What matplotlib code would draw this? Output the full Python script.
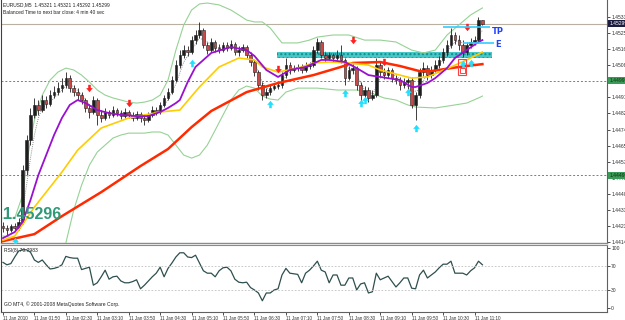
import matplotlib
matplotlib.use("Agg")
import matplotlib.pyplot as plt
from matplotlib.path import Path
from matplotlib.patches import Rectangle
import numpy as np

# EURUSD M5 bars
opens = [1.44229, 1.44219, 1.44208, 1.44229, 1.44219, 1.44251, 1.44526, 1.44684, 1.44817, 1.44870,
         1.44843, 1.44896, 1.44875, 1.44922, 1.44938, 1.44959, 1.44975, 1.45012, 1.44959, 1.44938,
         1.44922, 1.44896, 1.44854, 1.44833, 1.44896, 1.44817, 1.44801, 1.44833, 1.44817, 1.44843,
         1.44827, 1.44811, 1.44833, 1.44817, 1.44801, 1.44822, 1.44801, 1.44790, 1.44817, 1.44843,
         1.44833, 1.44870, 1.44907, 1.44938, 1.45002, 1.45081, 1.45134, 1.45160, 1.45150, 1.45213,
         1.45240, 1.45266, 1.45187, 1.45160, 1.45203, 1.45171, 1.45160, 1.45187, 1.45171, 1.45192,
         1.45150, 1.45160, 1.45176, 1.45134, 1.45097, 1.45044, 1.44975, 1.44922, 1.44938, 1.44959,
         1.44970, 1.44975, 1.45028, 1.45081, 1.45055, 1.45065, 1.45071, 1.45055, 1.45076, 1.45081,
         1.45160, 1.45203, 1.45134, 1.45118, 1.45134, 1.45118, 1.45134, 1.45108, 1.45012, 1.45055,
         1.45065, 1.44975, 1.44922, 1.44949, 1.44907, 1.44922, 1.45081, 1.45044, 1.45028, 1.45055,
         1.45012, 1.45002, 1.44975, 1.44991, 1.45002, 1.44870, 1.44922, 1.45044, 1.45065, 1.45028,
         1.45055, 1.45081, 1.45108, 1.45150, 1.45187, 1.45240, 1.45213, 1.45187, 1.45150, 1.45187,
         1.45203, 1.45213, 1.45321]
highs = [1.44251, 1.44235, 1.44240, 1.44245, 1.44272, 1.44552, 1.44711, 1.44854, 1.44907, 1.44896,
         1.44922, 1.44917, 1.44949, 1.44970, 1.44991, 1.45012, 1.45044, 1.45028, 1.44975, 1.44959,
         1.44938, 1.44907, 1.44875, 1.44917, 1.44907, 1.44843, 1.44854, 1.44843, 1.44864, 1.44854,
         1.44843, 1.44854, 1.44843, 1.44833, 1.44838, 1.44833, 1.44817, 1.44833, 1.44864, 1.44859,
         1.44885, 1.44922, 1.44959, 1.45023, 1.45108, 1.45160, 1.45187, 1.45182, 1.45235, 1.45266,
         1.45309, 1.45277, 1.45203, 1.45224, 1.45213, 1.45192, 1.45203, 1.45203, 1.45213, 1.45203,
         1.45182, 1.45192, 1.45187, 1.45150, 1.45108, 1.45055, 1.44991, 1.44959, 1.44975, 1.44986,
         1.44991, 1.45044, 1.45118, 1.45097, 1.45081, 1.45086, 1.45086, 1.45097, 1.45097, 1.45182,
         1.45224, 1.45213, 1.45150, 1.45150, 1.45145, 1.45160, 1.45187, 1.45118, 1.45076, 1.45086,
         1.45076, 1.44991, 1.44970, 1.44965, 1.44949, 1.45118, 1.45097, 1.45065, 1.45071, 1.45065,
         1.45028, 1.45018, 1.45012, 1.45012, 1.45018, 1.44938, 1.45065, 1.45097, 1.45081, 1.45076,
         1.45108, 1.45129, 1.45171, 1.45213, 1.45277, 1.45256, 1.45240, 1.45213, 1.45203, 1.45224,
         1.45235, 1.45335, 1.45321]
lows = [1.44198, 1.44182, 1.44198, 1.44203, 1.44208, 1.44240, 1.44499, 1.44658, 1.44801, 1.44817,
        1.44833, 1.44854, 1.44864, 1.44907, 1.44922, 1.44938, 1.44959, 1.44938, 1.44917, 1.44896,
        1.44875, 1.44833, 1.44801, 1.44822, 1.44764, 1.44780, 1.44790, 1.44801, 1.44806, 1.44811,
        1.44795, 1.44801, 1.44801, 1.44785, 1.44790, 1.44780, 1.44764, 1.44780, 1.44806, 1.44817,
        1.44822, 1.44859, 1.44896, 1.44928, 1.44991, 1.45065, 1.45118, 1.45129, 1.45139, 1.45192,
        1.45224, 1.45171, 1.45139, 1.45150, 1.45150, 1.45145, 1.45150, 1.45155, 1.45160, 1.45134,
        1.45129, 1.45150, 1.45118, 1.45076, 1.45023, 1.44949, 1.44896, 1.44907, 1.44922, 1.44949,
        1.44954, 1.44959, 1.45012, 1.45034, 1.45044, 1.45049, 1.45039, 1.45044, 1.45060, 1.45071,
        1.45145, 1.45118, 1.45097, 1.45108, 1.45097, 1.45108, 1.45092, 1.44975, 1.45002, 1.45034,
        1.44949, 1.44880, 1.44896, 1.44885, 1.44896, 1.44912, 1.45023, 1.45007, 1.45012, 1.44991,
        1.44981, 1.44949, 1.44959, 1.44949, 1.44854, 1.44790, 1.44907, 1.45023, 1.45002, 1.45012,
        1.45044, 1.45065, 1.45092, 1.45129, 1.45171, 1.45192, 1.45160, 1.45123, 1.45134, 1.45171,
        1.45187, 1.45198, 1.45292]
closes = [1.44219, 1.44208, 1.44229, 1.44219, 1.44251, 1.44526, 1.44684, 1.44817, 1.44870, 1.44843,
          1.44896, 1.44875, 1.44922, 1.44938, 1.44959, 1.44975, 1.45012, 1.44959, 1.44938, 1.44922,
          1.44896, 1.44854, 1.44833, 1.44896, 1.44817, 1.44801, 1.44833, 1.44817, 1.44843, 1.44827,
          1.44811, 1.44833, 1.44817, 1.44801, 1.44822, 1.44801, 1.44790, 1.44817, 1.44843, 1.44833,
          1.44870, 1.44907, 1.44938, 1.45002, 1.45081, 1.45134, 1.45160, 1.45150, 1.45213, 1.45240,
          1.45266, 1.45187, 1.45160, 1.45203, 1.45171, 1.45160, 1.45187, 1.45171, 1.45192, 1.45150,
          1.45160, 1.45176, 1.45134, 1.45097, 1.45044, 1.44975, 1.44922, 1.44938, 1.44959, 1.44970,
          1.44975, 1.45028, 1.45081, 1.45055, 1.45065, 1.45071, 1.45055, 1.45076, 1.45081, 1.45160,
          1.45203, 1.45134, 1.45118, 1.45134, 1.45118, 1.45134, 1.45108, 1.45012, 1.45055, 1.45065,
          1.44975, 1.44922, 1.44949, 1.44907, 1.44922, 1.45081, 1.45044, 1.45028, 1.45055, 1.45012,
          1.45002, 1.44975, 1.44991, 1.45002, 1.44870, 1.44922, 1.45044, 1.45065, 1.45028, 1.45055,
          1.45081, 1.45108, 1.45150, 1.45187, 1.45240, 1.45213, 1.45187, 1.45150, 1.45187, 1.45203,
          1.45213, 1.45321, 1.45299]

# indicator lines, sampled off the chart (bar index, price)
red_bars = [0, 8, 15, 25, 35, 42, 48, 53, 62, 70, 79, 86, 89, 96, 101, 106, 109, 114, 118, 122]
red_ma = [1.44150, 1.44187, 1.44282, 1.44409, 1.44547, 1.44637, 1.44753, 1.44838, 1.44938, 1.44986,
          1.45028, 1.45071, 1.45092, 1.45097, 1.45076, 1.45049, 1.45049, 1.45065, 1.45076, 1.45086]

gold_bars = [0, 3, 8, 15, 19, 25, 32, 40, 45, 50, 55, 60, 64, 66, 70, 75, 79, 83, 88, 93, 96, 101,
             104, 108, 111, 114, 118, 122]
gold_ma = [1.44155, 1.44177, 1.44330, 1.44515, 1.44631, 1.44748, 1.44801, 1.44833, 1.44843, 1.44965,
           1.45071, 1.45118, 1.45108, 1.45071, 1.45044, 1.45065, 1.45092, 1.45097, 1.45092, 1.45081,
           1.45055, 1.45028, 1.45012, 1.45018, 1.45044, 1.45071, 1.45108, 1.45150]

purple_bars = [0, 3, 5, 7, 9, 11, 13, 15, 17, 19, 21, 24, 27, 30, 34, 37, 40, 42, 44, 45, 47, 49, 51,
               53, 58, 62, 64, 67, 70, 73, 77, 81, 83, 87, 90, 93, 96, 101, 104, 105, 108, 110, 113,
               115, 118, 121, 122]
purple_ma = [1.44166, 1.44198, 1.44251, 1.44367, 1.44499, 1.44605, 1.44711, 1.44801, 1.44870, 1.44896,
             1.44880, 1.44843, 1.44827, 1.44817, 1.44811, 1.44811, 1.44833, 1.44854, 1.44880, 1.44896,
             1.44991, 1.45071, 1.45108, 1.45145, 1.45176, 1.45160, 1.45129, 1.45055, 1.45018, 1.45055,
             1.45071, 1.45108, 1.45108, 1.45097, 1.45065, 1.45028, 1.45018, 1.45002, 1.44965, 1.44965,
             1.44986, 1.45012, 1.45065, 1.45118, 1.45160, 1.45203, 1.45213]

dot_bars = [0, 2, 4, 5, 6, 7, 8, 9, 10] + list(range(12, 123, 2))
dot_ma = [1.44214, 1.44219, 1.44229, 1.44314, 1.44446, 1.44589, 1.44711, 1.44801, 1.44854, 1.44885,
          1.44928, 1.44970, 1.44970, 1.44922, 1.44870, 1.44854, 1.44822, 1.44833, 1.44827, 1.44822,
          1.44811, 1.44806, 1.44817, 1.44848, 1.44896, 1.44981, 1.45097, 1.45160, 1.45224, 1.45203,
          1.45176, 1.45171, 1.45182, 1.45166, 1.45155, 1.45097, 1.44991, 1.44938, 1.44965, 1.45023,
          1.45065, 1.45065, 1.45071, 1.45150, 1.45150, 1.45123, 1.45118, 1.45065, 1.45028, 1.44949,
          1.44922, 1.45012, 1.45044, 1.45023, 1.44991, 1.44938, 1.44949, 1.45044, 1.45055, 1.45108,
          1.45187, 1.45213, 1.45176, 1.45192, 1.45266]

bb_up_bars = [0, 3, 5, 6, 7, 8] + list(range(10, 53, 2)) + [55, 58, 60, 62, 64, 66, 68, 70, 71, 75,
              78, 80, 84, 88, 92, 96, 100, 104, 107, 110, 113, 116, 119, 122]
bb_up = [1.44272, 1.44272, 1.44393, 1.44552, 1.44684, 1.44790, 1.44922, 1.45002, 1.45044, 1.45065,
         1.45055, 1.45028, 1.44991, 1.44949, 1.44922, 1.44907, 1.44896, 1.44885, 1.44880, 1.44885,
         1.44896, 1.44922, 1.45002, 1.45160, 1.45293, 1.45372, 1.45404, 1.45409, 1.45399, 1.45372,
         1.45346, 1.45319, 1.45309, 1.45309, 1.45277, 1.45224, 1.45198, 1.45198, 1.45213, 1.45229,
         1.45240, 1.45240, 1.45213, 1.45213, 1.45203, 1.45160, 1.45145, 1.45160, 1.45240, 1.45293,
         1.45346, 1.45383]
bb_lo_bars = [0, 3, 5, 7, 9, 11, 13, 15] + list(range(16, 73, 2)) + [75, 80, 85, 90, 93, 97, 100,
              103, 105, 110, 115, 118, 121, 122]
bb_lo = [1.44177, 1.44166, 1.44102, 1.43970, 1.43891, 1.43891, 1.43970, 1.44076, 1.44140, 1.44314,
         1.44446, 1.44552, 1.44621, 1.44658, 1.44695, 1.44711, 1.44721, 1.44721, 1.44721, 1.44727,
         1.44727, 1.44711, 1.44658, 1.44605, 1.44589, 1.44605, 1.44658, 1.44737, 1.44817, 1.44896,
         1.44949, 1.44970, 1.44959, 1.44917, 1.44901, 1.44896, 1.44938, 1.44959, 1.44959, 1.44949,
         1.44949, 1.44938, 1.44907, 1.44896, 1.44870, 1.44859, 1.44854, 1.44870, 1.44880, 1.44907,
         1.44917]

# signal arrows
sell_bars = [22, 32, 70, 89, 97, 118]
sell_px = [1.44959, 1.44880, 1.45060, 1.45213, 1.45097, 1.45282]
buy_bars = [3, 48, 68, 87, 91, 92, 103, 105, 117, 119]
buy_px = [1.44150, 1.45092, 1.44875, 1.44933, 1.44880, 1.44896, 1.44938, 1.44748, 1.45086, 1.45092]

rsi = [76, 72, 74, 85, 95, 97, 97, 93, 80, 76, 80, 72, 65, 66, 68, 72, 86, 84, 83, 83,
       64, 66, 68, 38, 42, 52, 63, 48, 52, 53, 45, 42, 42, 44, 47, 32, 38, 45, 52, 58,
       68, 52, 66, 75, 85, 92, 92, 85, 84, 88, 75, 62, 58, 58, 52, 62, 67, 68, 62, 48,
       43, 42, 43, 34, 30, 25, 12, 25, 25, 30, 32, 55, 66, 58, 57, 56, 42, 58, 63, 70,
       78, 63, 60, 42, 55, 55, 38, 38, 50, 50, 30, 40, 42, 25, 27, 58, 47, 50, 53, 44,
       35, 42, 50, 50, 33, 32, 55, 63, 50, 55, 60, 67, 73, 73, 78, 58, 58, 58, 55, 62,
       67, 78, 72]

time_labels = ["11 Jan 2010", "11 Jan 01:50", "11 Jan 02:30", "11 Jan 03:10", "11 Jan 03:50",
               "11 Jan 04:30", "11 Jan 05:10", "11 Jan 05:50", "11 Jan 06:30", "11 Jan 07:10",
               "11 Jan 07:50", "11 Jan 08:30", "11 Jan 09:10", "11 Jan 09:50", "11 Jan 10:30",
               "11 Jan 11:10"]
price_ticks = [1.45335, 1.45250, 1.45165, 1.45080, 1.44995, 1.44910, 1.44825, 1.44740, 1.44655,
               1.44570, 1.44485, 1.44400, 1.44315, 1.44230, 1.44145]

bid = 1.45299
level_hi = 1.44997
level_lo = 1.44499
zone = (1.45118, 1.45150)
tp_px = 1.45280
entry_px = 1.45200

small = dict(family="Liberation Sans", color="#202020")

opens, highs, lows, closes = map(np.array, (opens, highs, lows, closes))
idx = np.arange(len(closes))

fig = plt.figure(figsize=(6.25, 3.2), dpi=100, facecolor="white")
ax = fig.add_axes([0.0016, 0.2406, 0.9696, 0.7594])
ax2 = fig.add_axes([0.0016, 0.025, 0.9696, 0.2094])

# main chart
ax.set_xlim(-0.5, 153.7)
ax.set_ylim(1.44140, 1.45425)

ax.axhline(bid, color="#b8b0a0", lw=0.8, zorder=1)
ax.axhline(level_hi, color="#5a9a3a", lw=0.7, ls=(0, (2, 2)), zorder=1)
ax.axhline(level_lo, color="#5a9a3a", lw=0.7, ls=(0, (2, 2)), zorder=1)

ax.add_patch(Rectangle((69.7, zone[0]), 124.4 - 69.7, zone[1] - zone[0],
                       facecolor="#46c8c8", edgecolor="#168c8c", hatch="....", lw=0, zorder=2))

ax.plot(bb_up_bars, bb_up, color="#96d296", lw=0.8, zorder=3)
ax.plot(bb_lo_bars, bb_lo, color="#96d296", lw=0.8, zorder=3)
ax.plot(dot_bars, dot_ma, color="#909090", lw=0.7, ls=(0, (1, 1.2)), zorder=3)

up = closes >= opens
ax.vlines(idx, lows, highs, color="#202020", lw=0.6, zorder=4)
body_lo = np.minimum(opens, closes)
body_h = np.maximum(np.abs(closes - opens), 0.000015)
ax.bar(idx[up], body_h[up], bottom=body_lo[up], width=0.66, color="#1e1e1e",
       edgecolor="#1e1e1e", lw=0.4, zorder=5)
ax.bar(idx[~up], body_h[~up], bottom=body_lo[~up], width=0.66, color="#c84848",
       edgecolor="#202020", lw=0.4, zorder=5)

ax.plot(red_bars, red_ma, color="#ff2a00", lw=1.8, zorder=6)
ax.plot(gold_bars, gold_ma, color="#ffcc00", lw=1.2, zorder=6)
ax.plot(purple_bars, purple_ma, color="#9a10d0", lw=1.3, zorder=6)

down_arrow = Path([(0, -1), (0.9, 0.1), (0.35, 0.1), (0.35, 1), (-0.35, 1), (-0.35, 0.1),
                   (-0.9, 0.1), (0, -1)], closed=True)
up_arrow = Path([(0, 1), (0.9, -0.1), (0.35, -0.1), (0.35, -1), (-0.35, -1), (-0.35, -0.1),
                 (-0.9, -0.1), (0, 1)], closed=True)
ax.scatter(sell_bars, sell_px, marker=down_arrow, s=28, color="#ff2020", lw=0, zorder=7)
ax.scatter(buy_bars, buy_px, marker=up_arrow, s=28, color="#20e0ff", lw=0, zorder=7)

ax.add_patch(Rectangle((115.8, 1.45028), 2.1, 0.00085, fill=False, ec="#ff4040", lw=0.8, zorder=7))
ax.add_patch(Rectangle((116.3, 1.45039), 1.3, 0.00026, fill=False, ec="#ff4040", lw=0.7, zorder=7))

ax.hlines(tp_px, 112, 124, color="#33ccff", lw=1.2, zorder=7)
ax.hlines(entry_px, 117, 125, color="#33ccff", lw=1.2, zorder=7)
ax.text(124.3, 1.45256, "TP", color="#2040ff", fontsize=6, fontweight="bold", va="center", zorder=8)
ax.text(125.3, 1.45192, "E", color="#2040ff", fontsize=6, fontweight="bold", va="center", zorder=8)

ax.text(0.004, 1.44290, "1.45296", color="#2e9a78", fontsize=11.5, fontweight="bold",
        family="Liberation Sans", va="center", ha="left",
        transform=ax.get_yaxis_transform(), zorder=8)

ax.set_xticks([])
ax.yaxis.tick_right()
ax.set_yticks(price_ticks)
# the two ticks that sit under the green level labels stay unlabeled
ax.set_yticklabels(["" if abs(p - level_hi) < 0.0001 or abs(p - level_lo) < 0.0001
                    else f"{p:.5f}" for p in price_ticks])
ax.tick_params(axis="y", labelsize=3.6, length=2, width=0.6, pad=1, colors="#303030")
for lbl in ax.get_yticklabels():
    lbl.set_family("Liberation Sans")
ax.spines["top"].set_visible(False)
ax.spines["left"].set_color("#404040")
ax.spines["right"].set_color("#606060")
ax.spines["bottom"].set_color("#8a8a8a")
ax.spines["bottom"].set_linewidth(1.0)

tr = ax.get_yaxis_transform()
box = dict(fontsize=3.6, family="Liberation Sans", va="center", ha="left",
           transform=tr, zorder=9, clip_on=False)
ax.text(1.004, bid, "1.45299", color="white",
        bbox=dict(boxstyle="square,pad=0.2", fc="#1c1c40", ec="none"), **box)
ax.text(1.004, level_hi, "1.44997", color="#103010",
        bbox=dict(boxstyle="square,pad=0.2", fc="#3a9a58", ec="none"), **box)
ax.text(1.004, level_lo, "1.44499", color="#103010",
        bbox=dict(boxstyle="square,pad=0.2", fc="#3a9a58", ec="none"), **box)

fig.text(3 / 625, 1 - 5 / 320, "EURUSD,M5  1.45321 1.45321 1.45292 1.45299", fontsize=3.5,
         va="center", **small)
fig.text(3 / 625, 1 - 12 / 320, "Balanced Time to next bar close: 4 min 40 sec", fontsize=3.5,
         va="center", **small)

# RSI panel
ax2.set_xlim(-0.5, 153.7)
ax2.set_ylim(-6.7, 105)
ax2.plot(idx, rsi, color="#2f4f4f", lw=0.9)
ax2.axhline(70, color="#c0c0c0", lw=0.6, ls=(0, (2, 2)))
ax2.axhline(30, color="#c0c0c0", lw=0.6, ls=(0, (2, 2)))
ax2.yaxis.tick_right()
ax2.set_yticks([0, 30, 70, 100])
ax2.tick_params(axis="y", labelsize=3.6, length=2, width=0.6, pad=1, colors="#303030")
ax2.set_xticks(np.arange(0, 121, 8))
ax2.set_xticklabels(time_labels)
ax2.tick_params(axis="x", labelsize=3.3, length=2, width=0.6, pad=1, colors="#303030")
for lbl in ax2.get_xticklabels() + ax2.get_yticklabels():
    lbl.set_family("Liberation Sans")
for lbl in ax2.get_xticklabels():
    lbl.set_ha("left")
ax2.spines["top"].set_color("#8a8a8a")
ax2.spines["left"].set_color("#404040")
ax2.spines["right"].set_color("#606060")
ax2.spines["bottom"].set_color("#606060")
ax2.text(0.005, 96, "RSI(8) 70.7983", fontsize=3.6, va="center",
         transform=ax2.get_yaxis_transform(), **small)
ax2.text(0.005, 7, "GO MT4, \u00a9 2001-2008 MetaQuotes Software Corp.", fontsize=3.6,
         va="center", transform=ax2.get_yaxis_transform(), **small)

fig.savefig("out.png", dpi=100, facecolor="white")
